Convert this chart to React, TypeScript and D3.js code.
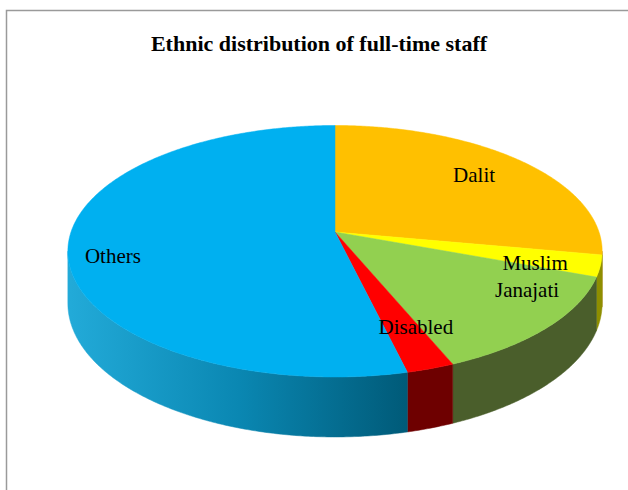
import React from "react";
import * as d3 from "d3";

const title = "Ethnic distribution of full-time staff";
const categories = ["Dalit", "Muslim", "Janajati", "Disabled", "Others"];
const values = [27.9, 2.75, 13.1, 2.5, 53.75];
const topColors = ["#FFC000", "#FFFF00", "#92D050", "#FF0000", "#00B0F0"];
const sideColors = ["#A07A00", "#8E8E00", "#4A5E2B", "#6E0000", "url(#othersSide)"];
const labelRadius = [0.756, 0.769, 0.809, 0.744, 0.838];
const labelShiftDeg = [-1.6, 3.0, -10.9, -3.6, -6.0];

const W = 628;
const H = 490;
const CX = 335;
const CY = 232;
const A = 264;
const B = 122.8;
const K = 0.153;
const DEPTH = 50.8;

function project(phi: number, f: number): [number, number, number] {
  const u = f * Math.sin(phi);
  const v = -f * Math.cos(phi);
  const w = 1 - K * v;
  return [CX + (A * u) / w, CY + (B * v) / w, w];
}

function samples(s: number, e: number): number[] {
  const n = Math.max(2, Math.ceil(((e - s) * 180) / Math.PI / 0.5));
  return d3.range(n + 1).map((i) => s + ((e - s) * i) / n);
}

export default function App() {
  const pie = d3
    .pie<number>()
    .sort(null)
    .value((d) => d);
  const arcs = pie(values);
  const line = d3.line<[number, number]>();

  const phi1 = Math.acos(-K);
  const phi2 = 2 * Math.PI - phi1;

  const walls = arcs.map((a, i) => {
    const s = Math.max(a.startAngle, phi1);
    const e = Math.min(a.endAngle, phi2);
    if (s >= e) return null;
    const angs = samples(s, e);
    const top = angs.map((p) => {
      const [x, y] = project(p, 1);
      return [x, y] as [number, number];
    });
    const bottom = angs
      .slice()
      .reverse()
      .map((p) => {
        const [x, y, w] = project(p, 1);
        return [x, y + DEPTH / w] as [number, number];
      });
    return (
      <path key={"w" + i} d={line([...top, ...bottom])! + "Z"} fill={sideColors[i]} stroke={sideColors[i]} strokeWidth={0.5} />
    );
  });

  const tops = arcs.map((a, i) => {
    const pts: [number, number][] = [[CX, CY]];
    samples(a.startAngle, a.endAngle).forEach((p) => {
      const [x, y] = project(p, 1);
      pts.push([x, y]);
    });
    return <path key={"t" + i} d={line(pts)! + "Z"} fill={topColors[i]} stroke={topColors[i]} strokeWidth={0.5} />;
  });

  const labels = arcs.map((a, i) => {
    const mid = (a.startAngle + a.endAngle) / 2 + (labelShiftDeg[i] * Math.PI) / 180;
    const [x, y] = project(mid, labelRadius[i]);
    return (
      <text
        key={"l" + i}
        x={x}
        y={y}
        dy="0.35em"
        textAnchor="middle"
        fontFamily="'Liberation Serif', 'Times New Roman', serif"
        fontSize={21}
        fill="#000"
      >
        {categories[i]}
      </text>
    );
  });

  return (
    <svg width={W} height={H} style={{ position: "absolute", left: 0, top: 0, background: "#fff" }}>
      <defs>
        <linearGradient id="othersSide" gradientUnits="userSpaceOnUse" x1={70} y1={0} x2={408} y2={0}>
          <stop offset="0" stopColor="#22AAD8" />
          <stop offset="0.5" stopColor="#0A87B2" />
          <stop offset="1" stopColor="#005A78" />
        </linearGradient>
      </defs>
      <rect x={0} y={0} width={W} height={H} fill="#fff" />
      <path d={`M6.5,${H} V10.5 H${W}`} fill="none" stroke="#9a9a9a" strokeWidth={1.5} />
      <text
        x={319}
        y={51}
        textAnchor="middle"
        fontFamily="'Liberation Serif', 'Times New Roman', serif"
        fontWeight="bold"
        fontSize={22}
        fill="#000"
      >
        {title}
      </text>
      <g>{walls}</g>
      <g>{tops}</g>
      <g>{labels}</g>
    </svg>
  );
}
